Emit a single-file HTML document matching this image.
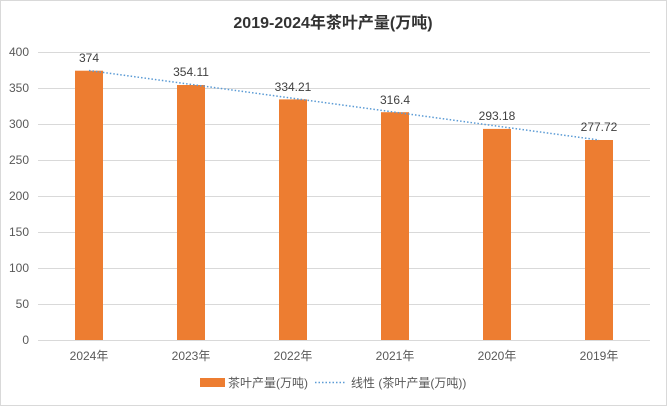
<!DOCTYPE html>
<html><head><meta charset="utf-8"><style>
body{margin:0;background:#fff;}
svg text{font-family:"Liberation Sans","Noto Sans CJK SC",sans-serif;}
</style></head><body>
<svg width="667" height="406" viewBox="0 0 667 406" xmlns="http://www.w3.org/2000/svg">
<rect x="0.5" y="0.5" width="666" height="405" fill="#fff" stroke="#d9d9d9"/>
<text x="333" y="28" font-size="16" font-weight="bold" text-anchor="middle" fill="#333">2019-2024年茶叶产量(万吨)</text>
<g stroke="#d9d9d9" stroke-width="1">
<line x1="38" x2="650" y1="52.5" y2="52.5"/><line x1="38" x2="650" y1="88.5" y2="88.5"/>
<line x1="38" x2="650" y1="124.5" y2="124.5"/><line x1="38" x2="650" y1="160.5" y2="160.5"/>
<line x1="38" x2="650" y1="196.5" y2="196.5"/><line x1="38" x2="650" y1="232.5" y2="232.5"/>
<line x1="38" x2="650" y1="268.5" y2="268.5"/><line x1="38" x2="650" y1="304.5" y2="304.5"/>
<line x1="38" x2="650" y1="340.5" y2="340.5"/>
</g>
<g font-size="12" fill="#595959" text-anchor="end">
<text x="29" y="56">400</text><text x="29" y="92">350</text><text x="29" y="128">300</text>
<text x="29" y="164">250</text><text x="29" y="200">200</text><text x="29" y="236">150</text>
<text x="29" y="272">100</text><text x="29" y="308">50</text><text x="29" y="344">0</text>
</g>
<g fill="#ed7d31">
<rect x="75" y="70.7" width="28" height="269.3"/>
<rect x="177" y="85" width="28" height="255"/>
<rect x="279" y="99.4" width="28" height="240.6"/>
<rect x="381" y="112.2" width="28" height="227.8"/>
<rect x="483" y="128.9" width="28" height="211.1"/>
<rect x="585" y="140" width="28" height="200"/>
</g>
<line x1="89" y1="70.5" x2="599" y2="140" stroke="#5b9bd5" stroke-width="1.5" stroke-dasharray="1.5,2"/>
<g font-size="12" fill="#404040" text-anchor="middle">
<text x="89" y="62">374</text><text x="191" y="76">354.11</text><text x="293" y="91">334.21</text>
<text x="395" y="104">316.4</text><text x="497" y="120">293.18</text><text x="599" y="131">277.72</text>
</g>
<g font-size="12" fill="#595959" text-anchor="middle">
<text x="89" y="360">2024年</text><text x="191" y="360">2023年</text><text x="293" y="360">2022年</text>
<text x="395" y="360">2021年</text><text x="497" y="360">2020年</text><text x="599" y="360">2019年</text>
</g>
<rect x="200" y="378" width="25" height="9" fill="#ed7d31"/>
<text x="228" y="387" font-size="12" fill="#595959">茶叶产量(万吨)</text>
<line x1="315" y1="382.5" x2="345" y2="382.5" stroke="#5b9bd5" stroke-width="1.5" stroke-dasharray="1.5,2"/>
<text x="351" y="387" font-size="12" fill="#595959">线性 (茶叶产量(万吨))</text>
</svg>
</body></html>
